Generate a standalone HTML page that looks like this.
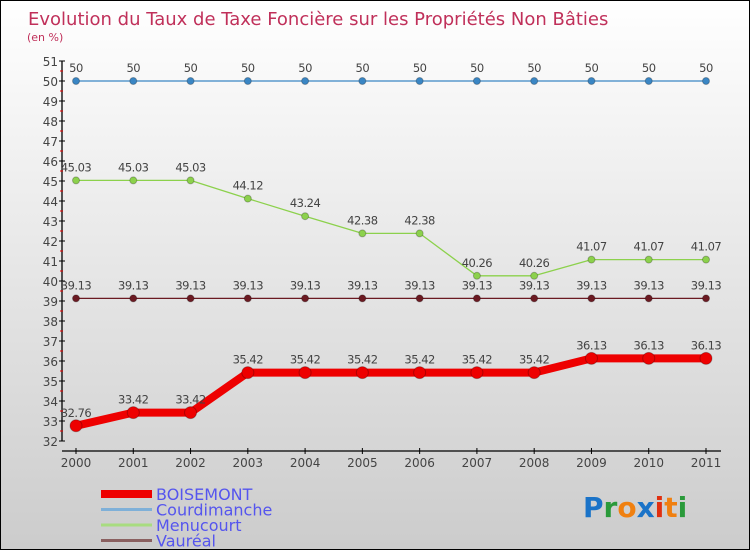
<!DOCTYPE html>
<html><head><meta charset="utf-8"><style>
body{margin:0}
#c{width:750px;height:550px;position:relative;box-sizing:border-box;border:1px solid #000;background:linear-gradient(#ffffff,#f0f0f0 30%,#cccccc);font-family:"DejaVu Sans","Liberation Sans",sans-serif;overflow:hidden}
</style></head><body>
<div id="c">
<svg id="s" width="750" height="550" style="position:absolute;left:0;top:0"></svg>
</div>
<script>
const years=["2000","2001","2002","2003","2004","2005","2006","2007","2008","2009","2010","2011"];
const boisemont=[32.76,33.42,33.42,35.42,35.42,35.42,35.42,35.42,35.42,36.13,36.13,36.13];
const courdimanche=[50,50,50,50,50,50,50,50,50,50,50,50];
const menucourt=[45.03,45.03,45.03,44.12,43.24,42.38,42.38,40.26,40.26,41.07,41.07,41.07];
const vaureal=[39.13,39.13,39.13,39.13,39.13,39.13,39.13,39.13,39.13,39.13,39.13,39.13];
const yTicks=[32,33,34,35,36,37,38,39,40,41,42,43,44,45,46,47,48,49,50,51];
const svg=document.getElementById('s');
const NS='http://www.w3.org/2000/svg';
function X(i){return 75+i*(630/11);}
function Y(v){return 440-(v-32)*20;}
function el(t,a,p){const e=document.createElementNS(NS,t);for(const k in a)e.setAttribute(k,a[k]);(p||svg).appendChild(e);return e;}
function tx(x,y,s,a){const e=el('text',Object.assign({x:x,y:y},a));e.textContent=s;return e;}
let t=tx(27,24,'Evolution du Taux de Taxe Foncière sur les Propriétés Non Bâties',{'font-size':18,fill:'#c0305a'});

t=tx(26,40,'(en %)',{'font-size':11,fill:'#c0305a'});

// axes
let ax=el('line',{x1:61,y1:Y(51),x2:61,y2:Y(32),stroke:'#000','stroke-width':1.3});

ax=el('line',{x1:61,y1:450,x2:720,y2:450,stroke:'#000','stroke-width':1.3});

yTicks.forEach(v=>{
 el('line',{x1:58,y1:Y(v),x2:64,y2:Y(v),stroke:'#000'});
 if(v<51)el('line',{x1:59,y1:Y(v+0.5),x2:62,y2:Y(v+0.5),stroke:'#e00'});
 const l=tx(57,Y(v)+5,String(v),{'font-size':12,fill:'#444','text-anchor':'end'});
 
});
years.forEach((y,i)=>{
 el('line',{x1:X(i),y1:447,x2:X(i),y2:453,stroke:'#000'});
 const l=tx(X(i),466,y,{'font-size':12,fill:'#444','text-anchor':'middle'});
 
});
function series(vals,color,w,r,name,fmt){
 const g=el('g',{});
 
 el('polyline',{points:vals.map((v,i)=>X(i)+','+Y(v)).join(' '),fill:'none',stroke:color,'stroke-width':w,'stroke-linejoin':'round'},g);
 vals.forEach((v,i)=>{
  const c=el('circle',{cx:X(i),cy:Y(v),r:r,fill:color,stroke:'rgba(0,0,0,0.25)','stroke-width':1},g);
  
  const l=tx(X(i),Y(v)-9,fmt(v),{'font-size':11.5,fill:'#444','text-anchor':'middle','letter-spacing':'-0.5'},g);
  
 });
}
const f=v=>String(v).replace('.','.');
series(courdimanche,'#3a86c4',1.3,3.5,'courdimanche',f);
series(menucourt,'#8cd14c',1.3,3.5,'menucourt',f);
series(vaureal,'#6b1a22',1.3,3.5,'vaureal',f);
series(boisemont,'#ee0000',8,6,'boisemont',f);
// legend
const leg=[['BOISEMONT','#ee0000',8],['Courdimanche','#7fb0d8',3],['Menucourt','#a8dc80',3],['Vauréal','#8a6060',3]];
leg.forEach((d,i)=>{
 const y=493+i*15.5;
 const g=el('g',{});
 el('line',{x1:100,y1:y,x2:151,y2:y,stroke:d[1],'stroke-width':d[2]},g);
 tx(155,y+6,d[0],{'font-size':16,fill:'#5555ee'},g);
});
// logo
const lg=el('text',{x:582,y:516,'font-size':28,'font-family':'"DejaVu Sans",sans-serif','font-weight':'bold'});

[['P','#1a73c8'],['r','#2a9a3a'],['o','#f08010'],['x','#1a73c8'],['i','#e03010'],['t','#f08010'],['i','#2a9a3a']].forEach(p=>{const s=el('tspan',{fill:p[1]},lg);s.textContent=p[0];});
</script>
</body></html>
